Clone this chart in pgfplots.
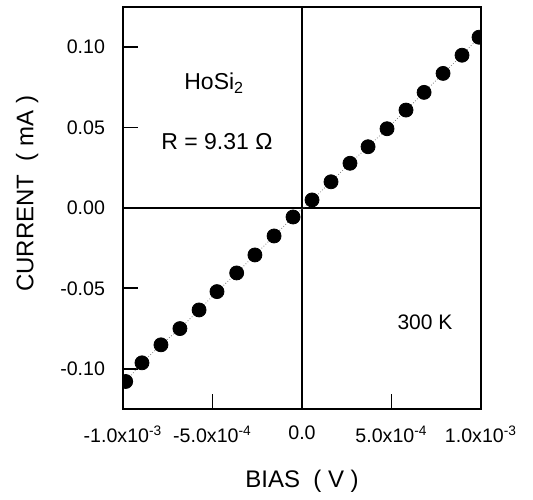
\documentclass[border=0pt]{standalone}
\usepackage{pgfplots}
\usepackage{pgfplotstable}
\pgfplotsset{compat=1.18}
\usepackage{fontspec}
\setmainfont{Liberation Sans}

% I-V data (bias in V, current in mA)
\pgfplotstableread{
v          i
-0.985e-3 -0.1079
-0.894e-3 -0.0963
-0.788e-3 -0.0851
-0.682e-3 -0.0750
-0.575e-3 -0.0634
-0.475e-3 -0.0520
-0.365e-3 -0.0404
-0.263e-3 -0.0292
-0.156e-3 -0.0174
-0.050e-3 -0.0056
 0.056e-3  0.0050
 0.162e-3  0.0163
 0.268e-3  0.0278
 0.369e-3  0.0381
 0.475e-3  0.0493
 0.581e-3  0.0609
 0.682e-3  0.0719
 0.788e-3  0.0837
 0.894e-3  0.0950
 0.989e-3  0.1062
}\ivdata

\begin{document}
\begin{tikzpicture}
\begin{axis}[
  width=179pt, height=201pt, scale only axis,
  xmin=-1e-3, xmax=1e-3, ymin=-0.125, ymax=0.125,
  axis line style={line width=1pt},
  tick pos=left,
  tick align=inside,
  major tick length=7.5pt,
  major tick style={black, line width=0.9pt},
  xtick={-1e-3,-5e-4,0,5e-4,1e-3},
  xticklabels={-1.0x10\textsuperscript{-3},-5.0x10\textsuperscript{-4},0.0,5.0x10\textsuperscript{-4},1.0x10\textsuperscript{-3}},
  ytick={-0.1,-0.05,0,0.05,0.1},
  yticklabels={-0.10,-0.05,0.00,0.05,0.10},
  scaled ticks=false,
  tick label style={font=\fontsize{9.8}{11}\selectfont},
  xticklabel style={yshift=-5pt},
  yticklabel style={xshift=-5.5pt},
  xlabel={BIAS\ \ ( V )},
  ylabel={CURRENT\ \ ( mA )},
  xlabel style={font=\fontsize{12}{14}\selectfont, at={(axis description cs:0.5,-0.18)}, anchor=center},
  ylabel style={font=\fontsize{12}{14}\selectfont, at={(axis description cs:-0.268,0.535)}, anchor=center},
  clip marker paths=true,
]
  % zero lines
  \addplot[black, line width=0.8pt] coordinates {(0,-0.125) (0,0.125)};
  \addplot[black, line width=0.8pt] coordinates {(-1e-3,0) (1e-3,0)};
  % fit line (dotted) and data points
  \addplot[gray, densely dotted, line width=0.4pt] table[x=v, y=i] {\ivdata};
  \addplot[only marks, mark=*, mark size=3.5pt, black] table[x=v, y=i] {\ivdata};
  \node[font=\fontsize{11.5}{13}\selectfont] at (axis cs:-0.49e-3,0.0775) {HoSi\textsubscript{2}};
  \node[font=\fontsize{11.5}{13}\selectfont] at (axis cs:-0.475e-3,0.041) {R = 9.31 Ω};
  \node[font=\fontsize{10.5}{12}\selectfont] at (axis cs:0.687e-3,-0.0708) {300 K};
\end{axis}
\path ([xshift=-61.5pt,yshift=-41.5pt]current axis.south west) rectangle ([xshift=26pt,yshift=3.5pt]current axis.north east);
\end{tikzpicture}
\end{document}
